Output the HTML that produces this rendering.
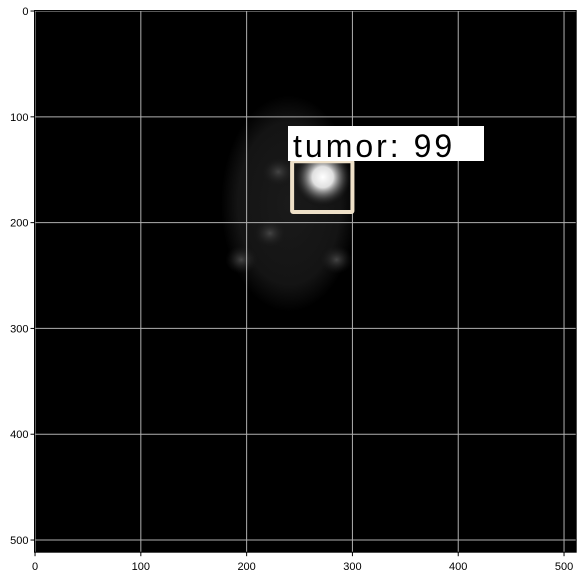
<!DOCTYPE html>
<html><head><meta charset="utf-8"><style>
html,body{margin:0;padding:0;background:#fff;width:583px;height:578px;overflow:hidden}
svg text{font-family:"Liberation Sans",sans-serif}
</style></head><body>
<svg id="chart" width="583" height="578" xmlns="http://www.w3.org/2000/svg">
<defs>
<radialGradient id="head" cx="50%" cy="50%" r="50%"><stop offset="0" stop-color="#1a1a1a"/><stop offset="0.75" stop-color="#141414"/><stop offset="1" stop-color="#000"/></radialGradient>
<radialGradient id="blob" cx="50%" cy="50%" r="50%"><stop offset="0" stop-color="#fff"/><stop offset="0.35" stop-color="#e0e0e0"/><stop offset="0.7" stop-color="#555" stop-opacity="0.6"/><stop offset="1" stop-color="#000" stop-opacity="0"/></radialGradient>
<radialGradient id="dot" cx="50%" cy="50%" r="50%"><stop offset="0" stop-color="#444"/><stop offset="1" stop-color="#1a1a1a" stop-opacity="0"/></radialGradient>
</defs>
<g id="plot"></g>
</svg>
<script>
const xTicks=[0,100,200,300,400,500];
const yTicks=[0,100,200,300,400,500];
const boxData=[243,142,300,190]; // x0,y0,x1,y1 in image coords
const labelText="tumor: 99";
const L=34.5,T=10.5,S=1.058;
const sx=v=>L+(v+0.5)*S, sy=v=>T+(v+0.5)*S;
const ns="http://www.w3.org/2000/svg";
const g=document.getElementById('plot');
function mk(tag,attrs){const e=document.createElementNS(ns,tag);for(const k in attrs)e.setAttribute(k,attrs[k]);g.appendChild(e);return e;}
let e=mk('rect',{x:L,y:T,width:512*S,height:512*S,fill:'#000'});


e=mk('ellipse',{cx:sx(240),cy:sy(182),rx:68,ry:108,fill:'url(#head)'});


[[195,235],[285,235],[230,152],[222,210]].forEach(p=>{const d=mk('ellipse',{cx:sx(p[0]),cy:sy(p[1]),rx:16,ry:14,fill:'url(#dot)'});

});
e=mk('ellipse',{cx:sx(272),cy:sy(157),rx:30,ry:30,fill:'url(#blob)'});


xTicks.forEach(v=>{const l=mk('line',{x1:sx(v),x2:sx(v),y1:T,y2:T+512*S,stroke:'#b0b0b0','stroke-width':1});


const t=mk('line',{x1:sx(v),x2:sx(v),y1:T+512*S,y2:T+512*S+4,stroke:'#000'});


const tx=mk('text',{x:sx(v),y:570,'font-size':11,'text-anchor':'middle',fill:'#000'});tx.textContent=v;

});
yTicks.forEach(v=>{const l=mk('line',{y1:sy(v),y2:sy(v),x1:L,x2:L+512*S,stroke:'#b0b0b0','stroke-width':1});


const t=mk('line',{y1:sy(v),y2:sy(v),x1:L-4,x2:L,stroke:'#000'});


const tx=mk('text',{x:L-6,y:sy(v)+4,'font-size':11,'text-anchor':'end',fill:'#000'});tx.textContent=v;

});
e=mk('rect',{x:sx(boxData[0]),y:sy(boxData[1]),width:(boxData[2]-boxData[0])*S,height:(boxData[3]-boxData[1])*S,fill:'none',stroke:'#eee0c8','stroke-width':4,rx:1});


e=mk('rect',{x:288,y:126,width:196,height:35,fill:'#fff'});


e=mk('text',{x:293,y:157,'font-size':32,fill:'#000','letter-spacing':3});e.textContent=labelText;


e=mk('rect',{x:L,y:T,width:512*S,height:512*S,fill:'none',stroke:'#000','stroke-width':1});


</script>
</body></html>
